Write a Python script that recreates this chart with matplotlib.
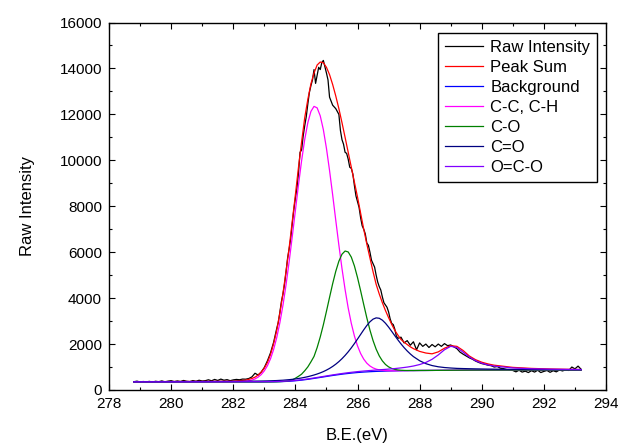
import matplotlib
matplotlib.use("Agg")
import matplotlib.pyplot as plt
from matplotlib.ticker import MultipleLocator

plt.rcParams['font.family'] = ['Liberation Sans', 'DejaVu Sans']

# ---- data ----
be_fit = [278.8, 279.6, 280.4, 281.2, 282.0, 282.4,
          282.6, 282.7, 282.8, 282.9, 283.0, 283.1, 283.2, 283.3, 283.4, 283.5,
          283.6, 283.7, 283.8, 283.9, 284.0, 284.1, 284.2, 284.3, 284.4, 284.5,
          284.6, 284.7, 284.8, 284.9, 285.0, 285.1, 285.2, 285.3, 285.4, 285.5,
          285.6, 285.7, 285.8, 285.9, 286.0, 286.1, 286.2, 286.3, 286.4, 286.5,
          286.6, 286.7, 286.8, 286.9, 287.0, 287.1, 287.2, 287.3, 287.4, 287.5,
          287.6, 287.7, 287.8,
          288.0, 288.2, 288.4, 288.6, 288.8, 289.0, 289.2, 289.4, 289.6, 289.8,
          290.0, 290.2, 290.4,
          291.0, 291.6, 292.2, 292.8, 293.2]

peak_sum = [363, 366, 370, 375, 388, 430,
            500, 560, 650, 780, 950, 1200, 1550, 2020, 2600, 3350,
            4200, 5180, 6200, 7350, 8500, 9700, 10800, 11850, 12650, 13330,
            13800, 14150, 14280, 14250, 14050, 13730, 13300, 12800, 12250, 11640,
            11000, 10350, 9700, 9050, 8400, 7700, 7000, 6350, 5750, 5150,
            4600, 4180, 3800, 3460, 3150, 2860, 2600, 2390, 2200, 2080,
            1980, 1880, 1800,
            1680, 1610, 1575, 1660, 1820, 1930, 1900, 1720, 1480, 1320,
            1210, 1135, 1080,
            985, 940, 915, 900, 890]

background = [350, 350, 350, 351, 351, 351,
              351, 351, 351, 351, 352, 353, 354, 356, 359, 363,
              367, 374, 381, 391, 402, 416, 430, 447, 465, 485,
              505, 526, 547, 568, 590, 611, 632, 651, 670, 688,
              705, 720, 735, 748, 761, 771, 781, 789, 797, 804,
              810, 815, 819, 823, 827, 830, 833, 837, 840, 842,
              844, 846, 847,
              850, 851, 853, 855, 857, 859, 861, 863, 865, 866,
              867, 867, 868,
              869, 869, 870, 870, 870]

cc_peak = [350, 350, 350, 351, 354, 380,
           431, 483, 561, 672, 834, 1058, 1363, 1768, 2287, 2929,
           3693, 4589, 5599, 6685, 7813, 8935, 9985, 10905, 11635, 12129,
           12349, 12284, 11937, 11337, 10520, 9555, 8495, 7387, 6307, 5289,
           4375, 3571, 2900, 2351, 1921, 1589, 1344, 1167, 1046, 963,
           909, 875, 855, 844, 839, 836, 836, 837, 840, 842,
           844, 846, 847,
           850, 851, 853, 855, 857, 859, 861, 863, 865, 866,
           867, 867, 868,
           869, 869, 870, 870, 870]

co_peak = [350, 350, 350, 351, 351, 351,
           351, 351, 351, 351, 352, 353, 354, 356, 359, 363,
           373, 386, 403, 436, 512, 596, 690, 837, 1005, 1225,
           1462, 1846, 2307, 2837, 3425, 4034, 4629, 5167, 5608, 5912,
           6051, 6010, 5786, 5402, 4895, 4321, 3722, 3139, 2609, 2153,
           1778, 1485, 1268, 1112, 1007, 939, 896, 872, 859, 852,
           849, 849, 847,
           850, 851, 853, 855, 857, 859, 861, 863, 865, 866,
           867, 867, 868,
           869, 869, 870, 870, 870]

cdo_peak = [359, 361, 365, 369, 377, 382,
            385, 387, 389, 391, 394, 397, 401, 406, 411, 419,
            426, 438, 450, 464, 481, 502, 524, 551, 580, 615,
            653, 696, 745, 801, 866, 940, 1026, 1124, 1236, 1363,
            1505, 1662, 1835, 2021, 2218, 2419, 2620, 2808, 2969, 3085,
            3140, 3123, 3041, 2907, 2740, 2555, 2366, 2182, 2007, 1845,
            1699, 1569, 1454,
            1274, 1147, 1064, 1011, 978, 957, 941, 933, 926, 920,
            915, 910, 907,
            898, 892, 888, 885, 883]

oco_peak = [354, 354, 355, 356, 358, 360,
            361, 361, 361, 361, 362, 364, 365, 367, 371, 375,
            380, 387, 395, 405, 417, 431, 446, 464, 482, 503,
            524, 546, 567, 590, 612, 635, 657, 677, 698, 717,
            736, 753, 770, 785, 800, 813, 826, 837, 848, 859,
            869, 879, 889, 899, 910, 921, 933, 948, 963, 980,
            998, 1020, 1044,
            1108, 1200, 1336, 1527, 1752, 1902, 1849, 1646, 1436, 1276,
            1166, 1092, 1041,
            960, 924, 907, 896, 891]

raw_be = [278.8, 278.9, 279.0, 279.1, 279.2, 279.3, 279.4, 279.5, 279.6, 279.7,
          279.8, 279.9, 280.0, 280.1, 280.2, 280.3, 280.4, 280.5, 280.6, 280.7,
          280.8, 280.9, 281.0, 281.1, 281.2, 281.3, 281.4, 281.5, 281.6, 281.7,
          281.8, 281.9, 282.0, 282.1, 282.2, 282.3, 282.4, 282.5, 282.6, 282.7,
          282.8, 282.9, 283.0, 283.1, 283.2, 283.3, 283.4, 283.45, 283.5, 283.55,
          283.6, 283.65, 283.7, 283.75, 283.8, 283.85, 283.9, 283.95, 284.0, 284.05,
          284.1, 284.15, 284.2, 284.25, 284.3, 284.35, 284.4, 284.45, 284.5, 284.55,
          284.6, 284.65, 284.7, 284.75, 284.8, 284.85, 284.9, 285.0, 285.05, 285.1,
          285.2, 285.3, 285.4, 285.45, 285.5, 285.55, 285.6, 285.65, 285.7, 285.75,
          285.8, 285.85, 285.9, 285.95, 286.0, 286.05, 286.1, 286.15, 286.2, 286.25,
          286.3, 286.35, 286.4, 286.45, 286.5, 286.55, 286.6, 286.65, 286.7, 286.75,
          286.8, 286.85, 286.9, 286.95, 287.0, 287.05, 287.1, 287.15, 287.2, 287.25,
          287.3, 287.4, 287.5, 287.6, 287.7, 287.8, 287.9, 288.0, 288.1, 288.2,
          288.3, 288.4, 288.5, 288.6, 288.7, 288.8, 288.9, 289.0, 289.1, 289.2,
          289.3, 289.4, 289.5, 289.6, 289.7, 289.8, 289.9, 290.0, 290.1, 290.2,
          290.3, 290.4, 290.5, 290.6, 290.7, 290.8, 290.9, 291.0, 291.1, 291.2,
          291.3, 291.4, 291.5, 291.6, 291.7, 291.8, 291.9, 292.0, 292.1, 292.2,
          292.3, 292.4, 292.5, 292.6, 292.7, 292.8, 292.9, 293.0, 293.1, 293.2]

raw_int = [360, 385, 350, 370, 355, 375, 345, 380, 360, 395,
           355, 385, 405, 365, 395, 370, 415, 380, 365, 410,
           380, 425, 390, 405, 445, 400, 460, 415, 475, 425,
           450, 405, 440, 460, 445, 475, 470, 500, 570, 730,
           650, 780, 980, 1270, 1620, 2080, 2680, 2950, 3380, 3850,
           4180, 4600, 5150, 5750, 6150, 6600, 7250, 7850, 8350, 8800,
           9450, 10350, 10450, 11050, 11500, 11900, 12450, 12950, 13250, 13500,
           13950, 13350, 13700, 14050, 13950, 14250, 14350, 13800, 13500, 12750,
           12400, 12250, 12000, 11300, 10900, 10700, 10350, 10300, 10050, 9700,
           9650, 9400, 8900, 8450, 8200, 7950, 7500, 7150, 7000, 6800,
           6400, 6300, 6000, 5650, 5500, 5350, 5000, 4700, 4500, 4350,
           4050, 3800, 3700, 3600, 3400, 3100, 2900, 2850, 2650, 2350,
           2250, 2300, 2050, 2150, 1950, 2100, 1750, 2050, 1900, 2000,
           1850, 1980, 1880, 2000, 1900, 2020, 1930, 1960, 1880, 1800,
           1650, 1560, 1480, 1400, 1340, 1260, 1200, 1150, 1120, 1080,
           1060, 1000, 1020, 950, 930, 890, 880, 850, 790, 860,
           780, 820, 760, 840, 780, 860, 760, 810, 850, 770,
           840, 790, 870, 830, 880, 850, 1000, 920, 1040, 900]

series_labels = ["Raw Intensity", "Peak Sum", "Background",
                 "C-C, C-H", "C-O", "C=O", "O=C-O"]
series_colors = ["#000000", "#FF0000", "#0000FF",
                 "#FF00FF", "#008000", "#000080", "#8000FF"]

x_ticks = [278, 280, 282, 284, 286, 288, 290, 292, 294]
y_ticks = [0, 2000, 4000, 6000, 8000, 10000, 12000, 14000, 16000]

# ---- figure ----
fig = plt.figure(figsize=(6.18, 4.45), dpi=100)
ax = fig.add_axes([0.1764, 0.1236, 0.8042, 0.8258])

ys = [peak_sum, background, cc_peak, co_peak, cdo_peak, oco_peak]
ax.plot(raw_be, raw_int, color=series_colors[0], lw=0.9, label=series_labels[0])
for y, c, lab in zip(ys, series_colors[1:], series_labels[1:]):
    ax.plot(be_fit, y, color=c, lw=0.9, label=lab)

ax.set_xlim(x_ticks[0], x_ticks[-1])
ax.set_ylim(y_ticks[0], y_ticks[-1])
ax.set_xticks(x_ticks)
ax.set_yticks(y_ticks)
ax.xaxis.set_minor_locator(MultipleLocator(1))
ax.yaxis.set_minor_locator(MultipleLocator(1000))
ax.tick_params(which='both', direction='in', top=True, right=True,
               labelsize=11, width=0.8)
ax.tick_params(which='major', length=4.5)
ax.tick_params(which='minor', length=2.5)
ax.tick_params(axis='x', pad=5)
ax.tick_params(axis='y', pad=5)
for sp in ax.spines.values():
    sp.set_linewidth(1.0)

ax.set_xlabel("B.E.(eV)", fontsize=12, labelpad=12)
ax.set_ylabel("Raw Intensity", fontsize=12, labelpad=18)

leg = ax.legend(loc='upper right', bbox_to_anchor=(0.982, 0.971),
                borderaxespad=0, fontsize=12, frameon=True, fancybox=False,
                framealpha=1, edgecolor='black', handlelength=2.3,
                handletextpad=0.45, labelspacing=0.3, borderpad=0.4)
leg.get_frame().set_linewidth(1.0)

fig.savefig("out.png", dpi=100)
